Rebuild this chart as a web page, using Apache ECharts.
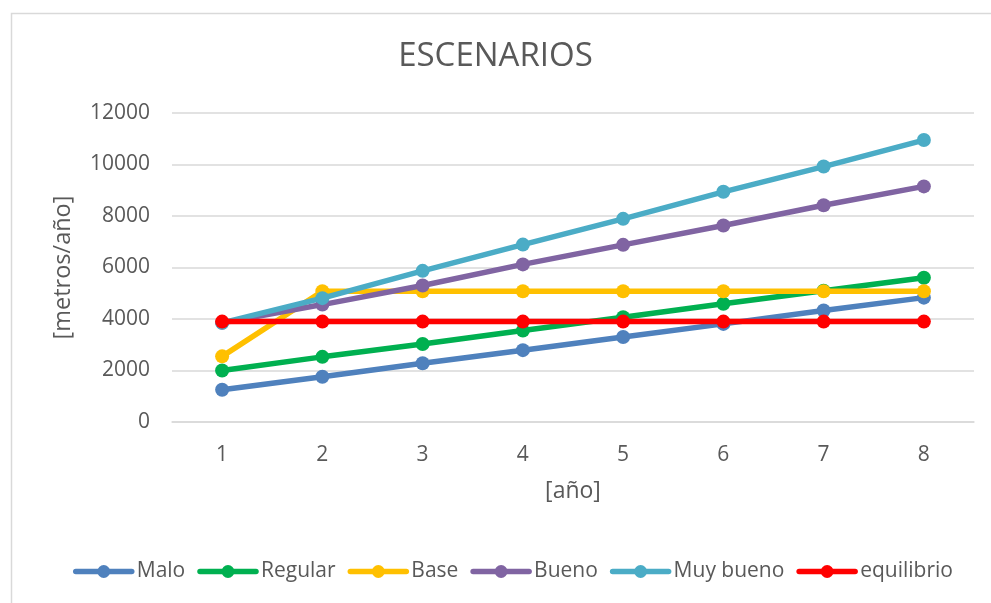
<!DOCTYPE html>
<html>
<head>
<meta charset="utf-8">
<title>ESCENARIOS</title>
<script src="https://cdn.jsdelivr.net/npm/echarts@6/dist/echarts.min.js"></script>
<style>
  html, body { margin: 0; padding: 0; background: #ffffff; }
  #chart { width: 991px; height: 603px; }
</style>
</head>
<body>
<div id="chart"></div>
<script>
// Years on the horizontal axis
const years = ['1', '2', '3', '4', '5', '6', '7', '8'];

// Scenario values, metres per year
const malo = [1250, 1760, 2280, 2790, 3300, 3810, 4330, 4830];
const regular = [2000, 2530, 3030, 3550, 4070, 4590, 5100, 5600];
const base = [2550, 5080, 5080, 5080, 5080, 5080, 5080, 5080];
const bueno = [3850, 4560, 5300, 6120, 6880, 7630, 8420, 9150];
const muyBueno = [3850, 4810, 5870, 6890, 7890, 8940, 9920, 10950];
const equilibrio = [3900, 3900, 3900, 3900, 3900, 3900, 3900, 3900];

const seriesNames = ['Malo', 'Regular', 'Base', 'Bueno', 'Muy bueno', 'equilibrio'];
const seriesData = [malo, regular, base, bueno, muyBueno, equilibrio];
const seriesColors = ['#4F81BD', '#00B050', '#FFC000', '#8064A2', '#4BACC6', '#FF0000'];

const FONT = '"Open Sans", "DejaVu Sans", sans-serif';
const TEXT = '#595959';
const GRID = '#D9D9D9';

const chart = echarts.init(document.getElementById('chart'), null, { renderer: 'canvas' });

chart.setOption({
  backgroundColor: '#ffffff',
  animation: false,
  graphic: [{
    type: 'rect',
    left: 9, top: 11,
    shape: { width: 1000, height: 620 },
    style: { fill: 'none', stroke: GRID, lineWidth: 1.5 },
    z: -1
  }],
  title: {
    text: 'ESCENARIOS',
    left: 'center',
    top: 35,
    textStyle: { fontFamily: FONT, fontSize: 33, fontWeight: 'normal', color: TEXT }
  },
  legend: {
    data: seriesNames,
    left: 68,
    top: 556,
    itemWidth: 56,
    itemHeight: 16,
    itemGap: 12,
    lineStyle: { width: 5.5 },
    textStyle: { fontFamily: FONT, fontSize: 21, color: TEXT }
  },
  grid: { left: 172, right: 17, top: 113, bottom: 181, containLabel: false },
  xAxis: {
    type: 'category',
    data: years,
    boundaryGap: true,
    name: '[año]',
    nameLocation: 'middle',
    nameGap: 58,
    nameTextStyle: { fontFamily: FONT, fontSize: 23, color: TEXT },
    axisLine: { show: true, lineStyle: { color: GRID, width: 1.5 } },
    axisTick: { show: false },
    axisLabel: { fontFamily: FONT, fontSize: 21, color: TEXT, margin: 23 },
    splitLine: { show: false }
  },
  yAxis: {
    type: 'value',
    min: 0,
    max: 12000,
    interval: 2000,
    name: '[metros/año]',
    nameLocation: 'middle',
    nameGap: 97,
    nameTextStyle: { fontFamily: FONT, fontSize: 23.5, color: TEXT },
    axisLine: { show: false },
    axisTick: { show: false },
    axisLabel: {
      fontFamily: FONT, fontSize: 21, color: TEXT, margin: 22,
      formatter: (v) => String(v)
    },
    splitLine: { show: true, lineStyle: { color: GRID, width: 1.5 } }
  },
  series: seriesNames.map((name, i) => ({
    name: name,
    type: 'line',
    data: seriesData[i],
    symbol: 'circle',
    symbolSize: 14,
    showAllSymbol: true,
    color: seriesColors[i],
    lineStyle: { width: 5.5, color: seriesColors[i], cap: 'round' },
    itemStyle: { color: seriesColors[i] },
    z: 2 + i
  }))
});
</script>
</body>
</html>
